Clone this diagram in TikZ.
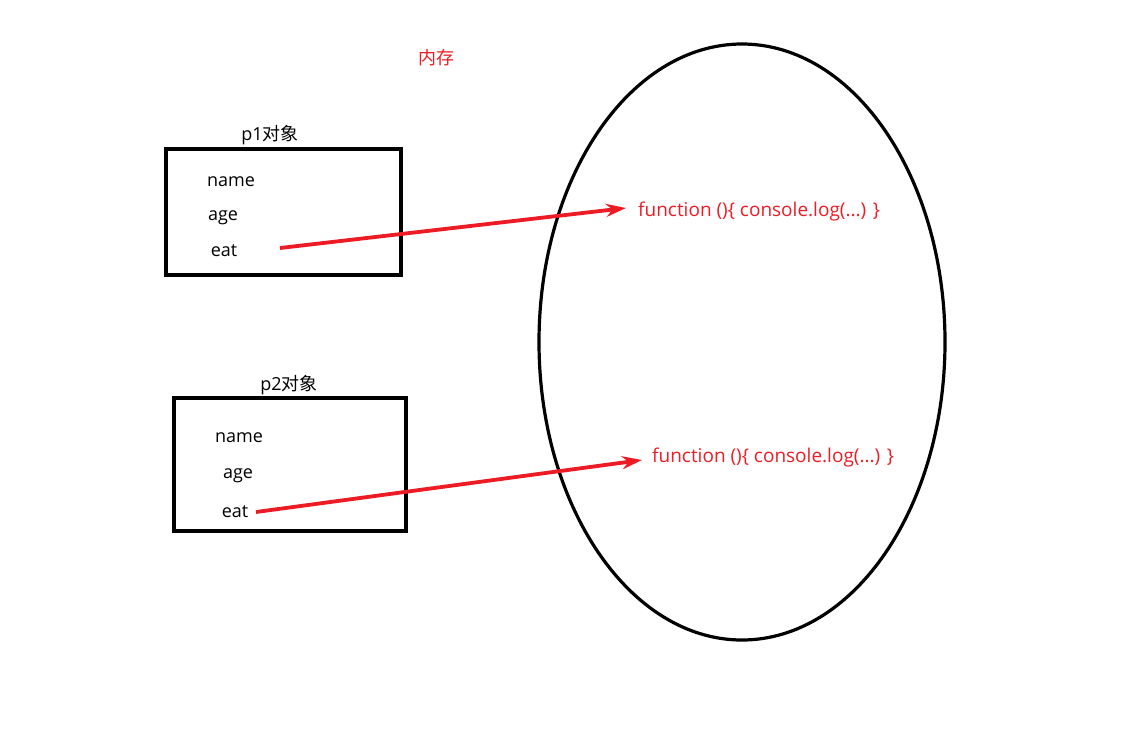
\documentclass[tikz,border=0pt]{standalone}
\usepackage{fontspec}
\setmainfont{Open Sans}
\newfontfamily\cjk{Noto Sans CJK SC}
\usetikzlibrary{shapes.geometric,arrows.meta}
\definecolor{myred}{RGB}{237,28,36}
\tikzset{
  objbox/.style={draw=black,line width=3.6pt,inner sep=0pt},
  field/.style={font=\fontsize{18}{21}\selectfont,text=black,inner sep=0pt,anchor=base},
  title/.style={font=\fontsize{18}{21}\selectfont,text=black,inner sep=0pt,anchor=base},
  fn/.style={font=\fontsize{19}{22}\selectfont,text=myred,inner sep=0pt,anchor=base west},
  ref/.style={draw=myred,line width=3.8pt,-{Stealth[length=20pt,width=13pt]}},
  mem/.style={draw=black,line width=3.2pt,ellipse,inner sep=0pt}
}
\begin{document}
\begin{tikzpicture}[x=1pt,y=-1pt]
\useasboundingbox (0,0) rectangle (1139,729);
\node[mem,minimum width=406pt,minimum height=596pt] (mem) at (742,342) {};
\node[font=\fontsize{18}{21}\selectfont\cjk,text=myred,inner sep=0pt] (memlbl) at (436,58) {内存};

\node[objbox,minimum width=235pt,minimum height=126pt] (box1) at (283.5,212) {};
\node[title] (t1) at (270,140) {p1{\cjk 对象}};
\node[field] (n1) at (231,186) {name};
\node[field] (a1) at (223,220) {age};
\node[field] (e1) at (224,256) {eat};
\coordinate (e1end) at (280,248);
\node[fn] (f1) at (638,216) {function ()\{ console.log(...) \}};
\draw[ref] (e1end) -- (626,208);

\node[objbox,minimum width=232pt,minimum height=133pt] (box2) at (290,464.5) {};
\node[title] (t2) at (289,390) {p2{\cjk 对象}};
\node[field] (n2) at (239,442) {name};
\node[field] (a2) at (238,478) {age};
\node[field] (e2) at (235,517) {eat};
\coordinate (e2end) at (256,512);
\node[fn] (f2) at (652,462) {function ()\{ console.log(...) \}};
\draw[ref] (e2end) -- (642,460);
\end{tikzpicture}
\end{document}
